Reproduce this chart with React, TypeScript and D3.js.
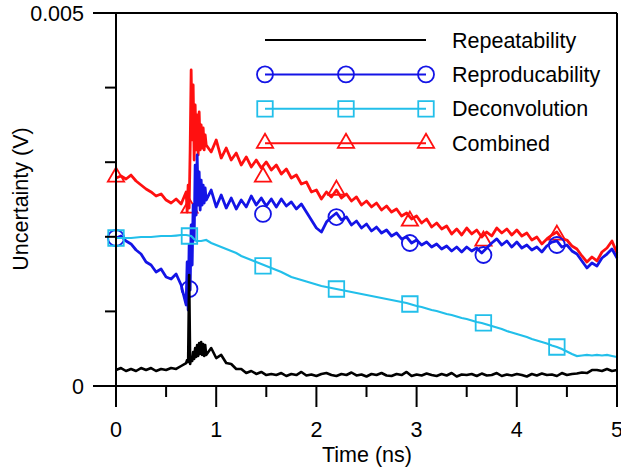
import React from 'react';
import * as d3 from 'd3';

// time grid in ns, values in mV (axis label shows V)
const times = d3.range(101).map((i) => +(i * 0.05).toFixed(2));
const spikeTimes = [0.71, 0.72, 0.73, 0.74, 0.76, 0.77, 0.78, 0.79, 0.81, 0.82, 0.83, 0.84, 0.86, 0.87, 0.88, 0.89];

const repeatability = [
  0.214, 0.241, 0.201, 0.228, 0.201, 0.241, 0.214, 0.241, 0.201, 0.228, 0.214, 0.241, 0.228, 0.268, 0.308,
  0.389, 0.389, 0.590, 0.416, 0.509, 0.375, 0.416, 0.308, 0.295, 0.228, 0.228, 0.174, 0.201, 0.161, 0.188, 0.147,
  0.161, 0.147, 0.174, 0.134, 0.161, 0.147, 0.188, 0.141, 0.154, 0.134,
  0.161, 0.174, 0.147, 0.134, 0.161, 0.147, 0.181, 0.141, 0.154, 0.127,
  0.161, 0.147, 0.174, 0.141, 0.134, 0.161, 0.147, 0.188, 0.134, 0.154,
  0.141, 0.167, 0.147, 0.134, 0.161, 0.141, 0.174, 0.127, 0.154, 0.147,
  0.161, 0.134, 0.167, 0.141, 0.147, 0.174, 0.134, 0.154, 0.141, 0.161,
  0.147, 0.127, 0.161, 0.141, 0.167, 0.147, 0.154, 0.134, 0.174, 0.147,
  0.161, 0.167, 0.181,
  0.174, 0.214, 0.214, 0.201, 0.228, 0.201, 0.214,
];
const repeatabilitySpike = [0.349, 0.322, 1.488, 0.295, 0.335, 0.456, 0.362, 0.509, 0.550, 0.402, 0.576, 0.429, 0.416, 0.563, 0.402, 0.550];

const reproducibility = [
  1.984, 2.011, 1.944, 1.904, 1.823, 1.769, 1.662, 1.622, 1.528, 1.568, 1.461, 1.434, 1.501, 1.354, 1.086,
  2.158, 2.292, 2.761, 2.493, 2.627, 2.400, 2.560, 2.386, 2.520, 2.373, 2.493, 2.400, 2.547, 2.426, 2.520, 2.413,
  2.507, 2.400, 2.507, 2.413, 2.467, 2.373, 2.440, 2.332, 2.225, 2.118,
  2.064, 2.198, 2.265, 2.319, 2.225, 2.265, 2.158, 2.212, 2.118, 2.172,
  2.078, 2.131, 2.051, 2.091, 2.011, 2.051, 1.971, 1.997, 1.917, 1.957,
  1.890, 1.930, 1.863, 1.904, 1.836, 1.877, 1.810, 1.863, 1.796, 1.863,
  1.810, 1.850, 1.783, 1.850, 1.917, 1.971, 1.890, 1.944, 1.863, 1.930,
  1.850, 1.890, 1.823, 1.863, 1.796, 1.877, 1.930, 1.944, 1.863, 1.890,
  1.810, 1.769, 1.676, 1.582, 1.649, 1.609, 1.716, 1.769, 1.836, 1.716,
];
const reproducibilitySpike = [1.662, 1.019, 1.890, 1.287, 1.622, 2.426, 1.957, 2.962, 3.097, 2.426, 2.869, 2.359, 2.426, 2.694, 2.453, 2.654];

const deconvolution = [
  1.984, 1.984, 1.984, 1.984, 1.991, 1.997, 1.997, 1.997, 2.004, 2.011, 2.011, 2.011, 2.017, 2.024, 2.024,
  2.011, 1.944, 1.944, 1.957, 1.917, 1.890, 1.863, 1.836, 1.810, 1.783, 1.743, 1.716, 1.689, 1.662, 1.636, 1.609,
  1.582, 1.555, 1.528, 1.495, 1.461, 1.441, 1.421, 1.401, 1.381, 1.361,
  1.341, 1.327, 1.314, 1.300, 1.287, 1.273, 1.260, 1.247, 1.233, 1.220,
  1.207, 1.193, 1.180, 1.166, 1.153, 1.140, 1.126, 1.113, 1.092, 1.072,
  1.059, 1.039, 1.019, 1.005, 0.985, 0.965, 0.952, 0.932, 0.912, 0.898,
  0.878, 0.858, 0.845, 0.824, 0.804, 0.784, 0.764, 0.737, 0.717, 0.697,
  0.677, 0.657, 0.630, 0.610, 0.590, 0.570, 0.543, 0.523, 0.496, 0.462,
  0.429, 0.402, 0.409, 0.416, 0.409, 0.416, 0.409, 0.416, 0.402, 0.389,
];

const combined = [
  2.788, 2.815, 2.775, 2.828, 2.748, 2.694, 2.641, 2.601, 2.547, 2.574, 2.493, 2.453, 2.507, 2.440, 2.601,
  4.236, 3.164, 3.499, 3.231, 3.137, 3.298, 3.056, 3.190, 3.029, 3.123, 2.962, 3.070, 2.936, 3.029, 2.922, 3.003,
  2.896, 2.962, 2.842, 2.909, 2.788, 2.828, 2.708, 2.735, 2.601, 2.627,
  2.507, 2.601, 2.534, 2.627, 2.520, 2.574, 2.480, 2.534, 2.426, 2.480,
  2.400, 2.453, 2.359, 2.413, 2.332, 2.373, 2.279, 2.319, 2.239, 2.279,
  2.185, 2.239, 2.131, 2.185, 2.105, 2.145, 2.038, 2.105, 2.024, 2.118,
  2.038, 2.091, 1.997, 2.064, 2.011, 2.118, 2.051, 2.105, 2.024, 2.091,
  2.011, 2.051, 1.957, 1.997, 1.904, 1.971, 2.024, 2.064, 1.971, 1.957,
  1.877, 1.836, 1.743, 1.662, 1.729, 1.676, 1.796, 1.850, 1.944, 1.783,
];
const combinedSpike = [2.332, 2.694, 2.386, 3.164, 3.298, 4.035, 3.029, 3.767, 3.633, 3.097, 3.673, 3.164, 3.190, 3.459, 3.164, 3.365];

// marker positions
const markerTimes = [0, 0.733, 1.467, 2.2, 2.933, 3.667, 4.4];
const circleValues = [1.984, 1.300, 2.306, 2.265, 1.917, 1.756, 1.890];
const squareValues = [1.984, 2.011, 1.609, 1.300, 1.099, 0.845, 0.523];
const triangleValues = [2.802, 2.386, 2.802, 2.627, 2.212, 1.944, 2.024];

const xTicks = [0, 1, 2, 3, 4, 5];
const xMinor = [0.5, 1.5, 2.5, 3.5, 4.5];
const yMajor = [0, 5];
const yMajorLabels = ['0', '0.005'];
const yMinor = [1, 2, 3, 4];

const RED = '#ff1010';
const BLUE = '#1414e6';
const CYAN = '#22bfea';

const W = 621;
const H = 469;
const FONT = 'Liberation Sans, Arial, sans-serif';
const FS = 21.5;

function merge(grid, spike) {
  const pts = times.map((t, i) => [t, grid[i]]);
  if (spike) spikeTimes.forEach((t, i) => pts.push([t, spike[i]]));
  return pts.sort((a, b) => a[0] - b[0]);
}

export default function App() {
  const x = d3.scaleLinear().domain([0, 5]).range([116, 617]);
  const y = d3.scaleLinear().domain([0, 5]).range([386, 13]);
  const line = d3.line().x((d) => x(d[0])).y((d) => y(d[1]));

  const sq = d3.symbol(d3.symbolSquare, 240)();
  const tri = d3.symbol(d3.symbolTriangle, 115)();

  const circle = (cx, cy, k) => (
    <circle key={k} cx={cx} cy={cy} r={8} fill="none" stroke={BLUE} strokeWidth={1.8} />
  );
  const square = (cx, cy, k) => (
    <path key={k} d={sq} transform={`translate(${cx},${cy})`} fill="none" stroke={CYAN} strokeWidth={1.8} />
  );
  const triangle = (cx, cy, k) => (
    <path key={k} d={tri} transform={`translate(${cx},${cy})`} fill="none" stroke={RED} strokeWidth={1.8} />
  );

  const legend = [
    { name: 'Repeatability', color: '#000', mark: null },
    { name: 'Reproducability', color: BLUE, mark: circle },
    { name: 'Deconvolution', color: CYAN, mark: square },
    { name: 'Combined', color: RED, mark: triangle },
  ];

  return (
    <svg width={W} height={H} style={{ position: 'absolute', left: 0, top: 0, background: '#fff' }} fontFamily={FONT}>
      {/* data */}
      <path d={line(merge(combined, combinedSpike))} fill="none" stroke={RED} strokeWidth={2.8} strokeLinejoin="round" />
      {markerTimes.map((t, i) => triangle(x(t), y(triangleValues[i]), 'tr' + i))}
      <path d={line(merge(reproducibility, reproducibilitySpike))} fill="none" stroke={BLUE} strokeWidth={2.8} strokeLinejoin="round" />
      {markerTimes.map((t, i) => circle(x(t), y(circleValues[i]), 'ci' + i))}
      <path d={line(merge(deconvolution, null))} fill="none" stroke={CYAN} strokeWidth={2.2} />
      {markerTimes.map((t, i) => square(x(t), y(squareValues[i]), 'sq' + i))}
      <path d={line(merge(repeatability, repeatabilitySpike))} fill="none" stroke="#000" strokeWidth={2.6} strokeLinejoin="round" />

      {/* frame & axes */}
      <g stroke="#000" strokeWidth={2} fill="none">
        <line x1={93} x2={617} y1={y(5)} y2={y(5)} />
        <line x1={93} x2={617} y1={y(0)} y2={y(0)} />
        <line x1={617} x2={617} y1={y(5)} y2={y(0)} />
        <line x1={116} x2={116} y1={y(5)} y2={y(0)} />
        {xTicks.map((t) => (
          <line key={'xt' + t} x1={x(t)} x2={x(t)} y1={y(0)} y2={y(0) + 21} />
        ))}
        {xMinor.map((t) => (
          <line key={'xm' + t} x1={x(t)} x2={x(t)} y1={y(0)} y2={y(0) + 11} />
        ))}
        {yMinor.map((v) => (
          <line key={'ym' + v} x1={105} x2={116} y1={y(v)} y2={y(v)} />
        ))}
      </g>
      <g fontSize={FS} fill="#000">
        {xTicks.map((t) => (
          <text key={'xl' + t} x={x(t)} y={437} textAnchor="middle">{t}</text>
        ))}
        {yMajor.map((v, i) => (
          <text key={'yl' + v} x={84} y={y(v) + 7.5} textAnchor="end">{yMajorLabels[i]}</text>
        ))}
        <text x={367} y={462} textAnchor="middle">Time (ns)</text>
        <text transform="translate(28,199) rotate(-90)" textAnchor="middle">Uncertainty (V)</text>
      </g>

      {/* legend */}
      {legend.map((d, i) => {
        const ly = 40 + i * 34.4;
        return (
          <g key={d.name}>
            <line x1={265} x2={426} y1={ly} y2={ly} stroke={d.color} strokeWidth={2} />
            {d.mark && [265, 346, 426].map((lx, j) => d.mark(lx, ly, d.name + j))}
            <text x={452} y={ly + 7.5} fontSize={FS} fill="#000">{d.name}</text>
          </g>
        );
      })}
    </svg>
  );
}
